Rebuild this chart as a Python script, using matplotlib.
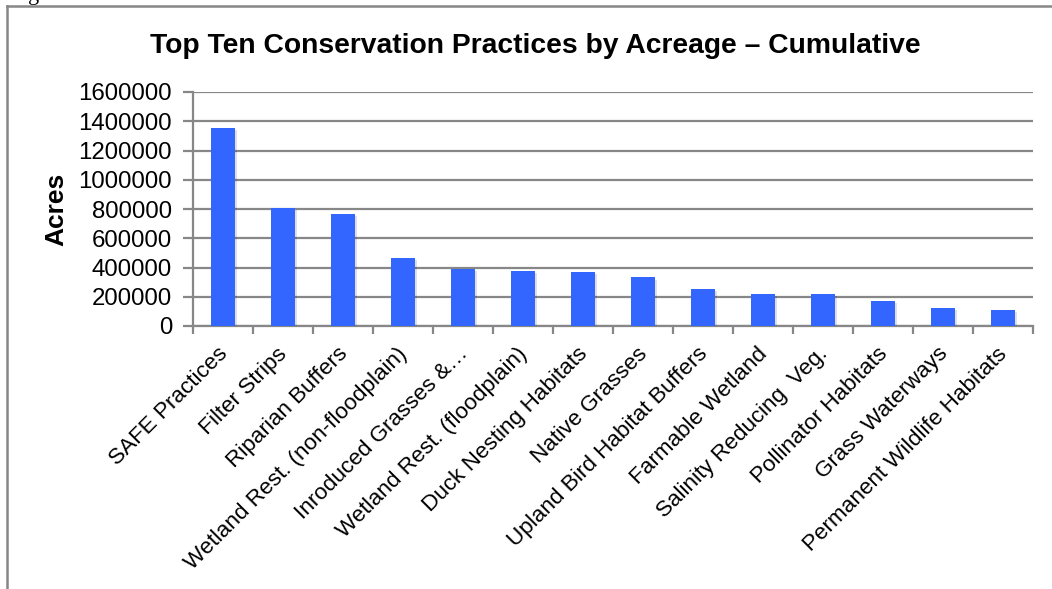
import matplotlib
matplotlib.use("Agg")
import matplotlib.pyplot as plt
from matplotlib.lines import Line2D
from matplotlib.transforms import ScaledTranslation
import matplotlib.patheffects as pe
import numpy as np

categories = [
    "SAFE Practices", "Filter Strips", "Riparian Buffers",
    "Wetland Rest. (non-floodplain)", "Inroduced Grasses &\u2026",
    "Wetland Rest. (floodplain)", "Duck Nesting Habitats", "Native Grasses",
    "Upland Bird Habitat Buffers", "Farmable Wetland",
    "Salinity Reducing  Veg.", "Pollinator Habitats", "Grass Waterways",
    "Permanent Wildlife Habitats",
]
acres = [1356000, 810000, 769000, 467000, 388000, 379000, 367000,
         332000, 252000, 222000, 218000, 173000, 123000, 111000]
y_ticks = [0, 200000, 400000, 600000, 800000, 1000000, 1200000, 1400000, 1600000]

title = "Top Ten Conservation Practices by Acreage \u2013 Cumulative"
y_label = "Acres"

plt.rcParams["font.family"] = ["Liberation Sans", "DejaVu Sans"]

W, H = 1052, 589
fig = plt.figure(figsize=(W / 100, H / 100), dpi=100)
ax = fig.add_axes([193 / W, 1 - 326 / H, (1033 - 193) / W, (326 - 92) / H])

grid_col = "#878787"
bar_col = "#3366FF"
x = np.arange(len(categories))

ax.bar(x, acres, width=0.4, color=bar_col, zorder=3,
       path_effects=[pe.SimplePatchShadow(offset=(1.5, -1.5), shadow_rgbFace="#000000", alpha=0.12),
                     pe.Normal()])

ax.set_xlim(-0.5, len(categories) - 0.5)
ax.set_ylim(0, 1600000)
ax.set_yticks(y_ticks)
ax.set_yticklabels([str(v) for v in y_ticks], fontsize=17.3)
ax.yaxis.grid(True, color=grid_col, linewidth=1.6, zorder=0)
ax.set_axisbelow(True)

# category labels, slanted, ending just below each bar
ax.set_xticks(x)
ax.tick_params(axis="x", which="major", length=0, labelbottom=False)
label_tr = ax.get_xaxis_transform() + ScaledTranslation(-0.06, -0.173, fig.dpi_scale_trans)
for xi, name in zip(x, categories):
    ax.text(xi, 0, name, transform=label_tr, fontsize=16.2, rotation=45,
            rotation_mode="anchor", ha="right", va="top")

ax.set_xticks(np.arange(len(categories) + 1) - 0.5, minor=True)
ax.tick_params(axis="x", which="minor", length=6, width=1.6, color=grid_col)
ax.tick_params(axis="y", length=7, width=1.6, color=grid_col, pad=8)

for s in ("top", "right"):
    ax.spines[s].set_visible(False)
for s in ("left", "bottom"):
    ax.spines[s].set_color(grid_col)
    ax.spines[s].set_linewidth(1.6)

ax.set_ylabel(y_label, fontsize=19, fontweight="bold", labelpad=7)

fig.text(535 / W, 1 - 46 / H, title, fontsize=20.3, fontweight="bold",
         ha="center", va="center")

# fragment of the caption line above the frame
fig.text(28 / W, 1.0, "g", fontsize=16, family="Liberation Serif", va="baseline")

# outer frame: top and left edges
fig.add_artist(Line2D([7 / W, 1.0], [1 - 6 / H, 1 - 6 / H],
                      transform=fig.transFigure, color=grid_col, linewidth=1.8))
fig.add_artist(Line2D([7 / W, 7 / W], [0.0, 1 - 6 / H],
                      transform=fig.transFigure, color=grid_col, linewidth=1.8))

fig.savefig("out.png", dpi=100, facecolor="white")
